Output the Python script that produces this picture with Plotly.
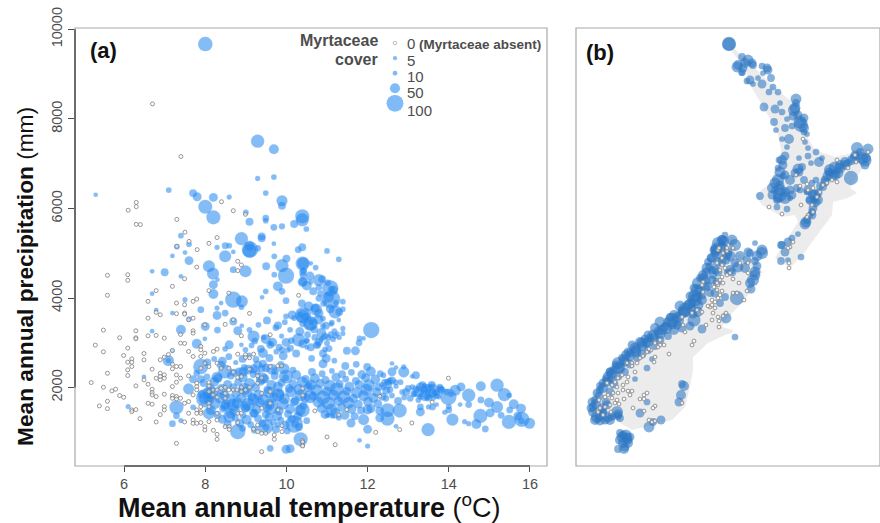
import plotly.graph_objects as go

W, H = 880, 523

# ---- Panel (a): sites with Myrtaceae absent (temperature, precipitation)
absent_temp = [6.7,7.4,6.3,6.3,6.1,7.3,6.3,6.4,8.4,8.69,8.99,7.5,7.6,8.09,8.29,7.8,7.3,
 5.59,6.09,6.09,5.59,6.79,6.59,7.19,7.49,7.79,7.29,7.49,7.7,7.79,6.79,6.89,7.29,7.49,7.49,6.59,7.59,7.7,8.09,8.58,9.09,8.49,7.99,8.69,10.3,8.8,8.89,8.8,
 5.49,6.29,5.89,6.29,6.29,6.59,6.79,6.99,7.39,7.7,7.7,7.39,7.49,8.89,9.6,5.29,6.09,5.49,6.49,6.49,5.99,6.19,6.09,6.19,6.19,6.09,6.09,5.59,5.19,5.49,6.29,5.79,5.7,5.89,5.99,5.59,5.39,5.59,6.19,6.19,6.29,6.39,
 6.69,6.89,6.99,7.09,7.19,6.89,6.89,6.99,6.79,6.89,6.99,6.49,6.59,6.69,6.69,6.69,6.79,6.99,6.59,6.69,6.99,6.99,6.89,6.79,7.19,7.29,7.39,7.19,7.29,7.29,7.19,7.39,7.59,7.79,7.79,7.79,7.7,7.19,7.29,7.29,7.19,7.39,7.59,7.49,7.79,7.89,7.59,7.7,7.7,7.79,7.49,7.89,7.99,7.99,8.2,8.29,8.29,7.29,
 7.59,7.7,7.89,7.89,7.99,7.89,8.2,8.29,7.99,7.89,8.09,8.29,8.39,8.58,8.69,8.8,8.89,8.8,8.99,8.99,9.09,9.19,9.09,9.29,9.39,9.6,9.79,9.88,
 8.09,8.09,8.19,8.29,8.39,8.09,8.19,8.29,8.49,8.49,8.58,8.69,8.49,8.78,8.89,9.09,8.89,8.99,8.09,8.09,7.89,7.79,8.29,8.29,8.09,7.89,
 8.49,8.59,8.59,8.8,8.89,8.8,9.19,9.29,9.29,9.39,9.49,9.7,9.7,9.89,9.89,9.39,9.39,9.6,9.6,9.39,9.79,9.29,10.39,10.39,
 13.99,13.59,12.3,11.49,11.29,10.7,13.09,12.79,12.2,11.2,11.0,10.4,10.4,10.4,10.4]
absent_precip = [8335,7160,6135,6040,5960,5755,5645,5640,6150,5950,5870,5470,5265,5220,5350,5080,5155,
 4507,4520,4395,4060,4165,3925,4260,4430,4690,3887,3850,3925,3977,3680,3626,3650,3665,3640,3550,3515,3550,4165,4110,3656,3410,3400,3515,4060,4820,4738,4611,
 3283,3268,3112,3112,3090,3156,3164,3104,3186,3268,3216,2992,2985,3156,3179,2947,2880,2798,2760,2619,2716,2641,2567,2567,2470,2395,2269,2320,2112,2007,2037,1963,1925,1821,1784,1694,1590,1530,1500,1463,1508,1306,
 2410,2619,2679,2738,2828,2320,2246,2283,2209,2172,2209,2172,2075,1963,1888,1836,1799,1851,1649,1627,1575,1500,1396,1232,2522,2470,2470,2418,2283,2119,2022,2209,2261,2097,2022,1948,1836,1821,1799,1746,1761,1761,1687,1649,1500,1463,1426,1276,1202,1202,1232,1217,1127,1052,1045,955,844,755,
 2806,2694,2918,2843,2768,2694,2806,2858,2545,2433,2470,2545,2433,2433,2343,2224,2246,2746,2731,2671,2664,2746,2410,2261,2216,2470,2485,2485,
 2112,2037,1948,1948,1985,1910,1836,1784,1873,1761,1948,1948,2007,1948,2007,2007,1910,1948,1649,1575,1575,1426,1426,1276,1239,1426,
 1127,1127,1067,1426,1426,1217,1075,1164,1015,978,978,941,844,1150,1015,568,1873,1910,1649,1538,1500,2097,814,709,
 2209,1672,1806,1508,1388,1478,1209,1060,1000,724,896,1978,1828,784,695]

# ---- Panel (a): sites with Myrtaceae present, by climate region
upper_temp = [8.0,5.3,7.1,7.7,7.8,8.2,8.0,8.2,8.59,9.29,9.69,9.29,9.69,9.49,9.89,9.89,9.0,9.09,9.49,9.49,9.69,9.89,10.19,10.39,10.39,10.49,7.4,7.6,7.3,8.89,9.09,9.39,9.39,9.69,8.29,8.49,8.59,9.1,9.29,10.39,10.29]
upper_precip = [9672,6306,6410,6343,6261,6247,6038,5801,6254,7502,7324,6670,6700,6343,6172,6061,5912,5704,5786,5726,5578,5600,5652,5823,5749,5541,5392,5199,5147,5325,5169,5377,5333,5214,5132,5169,5169,5080,5110,5132,5080]
upper_cover = [73,5,12,27,34,34,70,70,8,64,41,8,12,12,49,27,12,27,19,12,19,16,27,70,64,12,12,12,12,64,41,27,27,5,8,19,12,85,19,27,19]

middle_temp = [7.5,7.19,7.6,8.49,9.09,8.69,8.09,8.19,8.69,8.99,9.5,9.7,10.0,9.89,9.99,10.4,10.4,9.7,9.79,9.89,9.99,9.49,9.4,8.2,8.2,8.3,6.69,7.0,7.4,6.69,7.5,8.69,8.9,8.89,7.89,8.39,8.29,8.49,8.29,6.79,7.19,7.6,8.69,8.0,8.3,8.8,8.9,9.09,9.19,7.4,6.69,7.99,9.6,9.99,10.19,10.4,10.58,9.79,10.09,10.4,9.49,9.6,9.99,10.3,7.79,8.59,8.49,8.89,8.99,7.09,7.19,
 11.29,11.0,10.41,10.6,10.41,10.41,10.41,10.6,10.8,10.8,11.08,11.1,11.1,11.39,10.8,11.2,11.39,11.29,11.1,10.41,10.6,10.8,10.9,10.5,10.71,11.39,11.39,10.9,10.34,10.5,10.5,12.09,11.8,11.9,11.79,11.49,11.7,
 10.7,10.8,10.85,10.95,11.0,10.75,10.9,11.1,11.2,11.3,11.15,11.25,11.05,10.9,10.98]
middle_precip = [5014,4939,4835,4932,5058,5029,4708,4544,4633,4596,4708,4932,4880,4723,4499,4768,4357,4521,4260,4148,3940,4148,4014,4298,4089,4410,4596,4574,4484,4096,3962,3962,3925,3798,3738,3887,3775,3664,3611,3731,3664,3530,3477,3365,3283,3268,3380,3290,3141,3290,3260,3089,3701,3589,3552,3589,3425,3388,3290,3425,3082,2955,3007,3067,2977,2955,2865,2955,2843,2604,2820,
 4865,5050,4775,4775,4589,4514,4365,4357,4402,4238,4216,3970,4200,3917,3992,3693,3750,3507,3417,3619,3432,3656,3540,3045,3770,3320,3209,3372,3620,3045,2895,3283,3097,3097,3000,2821,2821,
 3120,3030,3070,3150,2990,2950,3110,3180,3150,3120,3080,3200,2870,2760,2650]
middle_cover = [5,5,34,56,70,5,56,56,19,56,27,12,27,64,85,70,41,12,41,19,19,12,5,34,41,5,5,27,5,5,8,85,56,12,19,5,8,19,34,5,5,12,27,34,19,34,5,12,56,41,5,5,5,12,12,70,70,27,12,19,41,27,34,64,41,34,12,5,12,49,5,
 12,12,56,5,27,20,34,8,56,19,85,100,19,12,19,64,12,5,8,85,70,34,12,12,34,8,8,12,19,12,5,85,12,5,19,27,34,
 19,27,12,19,12,27,12,19,12,8,12,8,19,27,34]

lower_temp = [8.0,7.99,8.09,8.09,8.8,8.59,8.69,8.49,8.99,9.19,8.9,9.19,9.6,9.49,9.4,9.29,9.39,9.99,9.89,9.79,10.19,10.4,10.58,10.35,9.6,9.99,10.09,9.79,
 7.89,8.39,8.49,8.29,7.79,7.7,7.59,7.89,6.49,6.1,7.29,7.29,7.19,7.4,7.7,7.09]
lower_precip = [1761,1761,1873,1426,1015,1351,1612,1575,1575,1724,1948,1426,1575,1127,2209,2507,2433,2246,2843,1836,1187,1500,1799,844,642,620,635,1164,
 2470,2507,2358,2231,2320,2186,1970,2186,2239,1575,1560,1373,1194,1262,1560,2604]
lower_cover = [100,60,64,56,78,56,64,41,49,56,27,34,85,78,56,34,27,70,19,64,93,70,64,70,19,34,34,12,
 78,34,70,49,19,27,49,27,5,8,70,19,19,8,12,8]

# dense core read band by band (cool side)
core_temp = [8.04,8.31,8.63,8.92,9.18,9.47,9.71,9.98,10.24,10.47,
 7.96,8.22,8.55,8.81,9.09,9.36,9.63,9.88,10.16,10.39,10.55,
 8.12,8.41,8.69,8.97,9.24,9.53,9.79,10.07,10.31,10.52,
 7.91,8.18,8.47,8.76,9.03,9.31,9.58,9.84,10.11,10.36,
 8.07,8.36,8.6,8.88,9.16,9.43,9.69,9.95,10.22,10.46,
 8.23,8.5,8.79,9.06,9.34,9.6,9.91,10.19,10.42,
 8.14,8.44,8.72,9.0,9.27,9.55,9.82,10.09,10.33,
 8.3,8.62,8.93,9.21,9.49,9.77,10.04,10.28,
 8.42,8.74,9.02,9.3,9.57,9.86,10.13,
 8.55,8.85,9.12,9.41,9.68,9.97,10.21,10.5,
 8.92,9.22,9.5,9.74,10.02,10.31]
core_precip = [2240,2210,2270,2230,2290,2200,2260,2220,2280,2190,
 2100,2130,2070,2120,2090,2140,2060,2110,2080,2130,2050,
 1990,1960,2010,1970,2000,1950,2020,1980,1960,2000,
 1850,1880,1830,1870,1900,1840,1890,1860,1910,1830,
 1740,1770,1720,1760,1790,1730,1780,1750,1710,1770,
 1650,1620,1660,1630,1670,1610,1640,1680,1600,
 1500,1530,1490,1540,1510,1550,1480,1520,1490,
 1390,1420,1380,1430,1400,1370,1410,1360,
 1290,1320,1280,1310,1340,1270,1300,
 1180,1210,1170,1200,1230,1160,1190,1260,
 1090,1060,1110,1070,1030,1120]
core_cover = [19,34,27,41,19,34,27,19,41,27,
 27,41,34,27,49,34,41,27,34,49,27,
 34,49,27,56,34,27,41,34,49,34,
 27,56,41,34,49,41,56,34,49,56,
 34,49,64,41,34,56,41,49,34,41,
 56,41,49,64,41,34,56,34,27,
 41,27,49,34,41,27,34,41,49,
 27,41,19,34,27,41,27,34,
 34,19,41,27,34,19,27,
 27,34,19,27,19,34,27,19,
 19,27,19,27,19,27]

# dense core (warm side)
warm_temp = [10.63,10.88,11.12,11.37,11.6,11.86,12.08,12.31,
 10.7,10.96,11.22,11.46,11.71,11.95,12.19,12.42,
 10.61,10.83,11.07,11.31,11.55,11.79,12.03,12.27,12.5,
 10.74,10.99,11.24,11.49,11.73,11.97,12.22,12.46,
 10.66,10.9,11.16,11.41,11.65,11.9,12.14,12.37,
 10.78,11.03,11.28,11.53,11.77,12.01,12.25,
 10.87,11.11,11.36,11.6,11.84,12.08,
 10.95,11.2,11.44,11.68,
 10.62,10.9,11.18,11.45,11.72,11.99]
warm_precip = [2350,2310,2370,2300,2340,2290,2360,2310,
 2210,2170,2230,2190,2150,2220,2180,2120,
 2060,2090,2040,2080,2020,2070,2050,2010,2080,
 1940,1910,1960,1920,1890,1950,1900,1930,
 1810,1780,1830,1790,1760,1820,1770,1800,
 1680,1650,1700,1660,1630,1690,1640,
 1540,1510,1560,1520,1490,1530,
 1400,1430,1380,1360,
 2650,2530,2600,2480,2520,2460]
warm_cover = [27,19,12,27,19,34,41,19,
 41,27,34,19,27,34,41,19,
 49,34,56,27,41,34,56,27,34,
 56,41,70,34,49,56,34,27,
 34,70,49,64,34,49,41,27,
 49,64,41,56,34,41,34,
 41,56,34,41,27,34,
 34,49,34,27,
 19,34,12,27,19,27]

# warm cloud above the core, between 2500 and 4800 mm
cloud_temp = [10.42,10.58,10.72,10.88,11.02,11.16,10.5,10.66,10.84,11.04,11.22,10.38,10.55,10.73,10.92,11.08,11.3,10.46,10.62,10.79,10.97,11.12,
 10.33,10.52,10.68,10.86,11.03,11.18,10.4,10.6,10.77,10.95,10.24,10.1,9.92,9.75,9.58,9.42,9.25,9.08,8.92,8.75,8.58,8.42,8.22,8.05,
 9.31,9.52,9.74,9.96,10.14,9.22,9.44,9.66,9.88,10.12,9.14,9.37,9.6,9.82,10.03,8.96,9.19,9.42,9.64,9.86,
 8.83,9.05,9.28,9.5,9.72,9.94,10.16,8.71,8.93,9.15]
cloud_precip = [4620,4490,4680,4420,4340,4180,4280,4150,4100,4020,3900,3880,3810,3740,3880,3760,3690,3580,3460,3520,3380,3450,
 3250,3180,3300,3220,3120,3260,2980,2900,2960,2850,2760,2880,2710,2800,2660,2770,2630,2720,2640,2560,2690,2590,2640,2560,
 3400,3500,3340,3460,3620,3040,3120,3010,3150,3050,2940,2860,2980,2900,2840,2450,2420,2530,2410,2520,
 2360,2400,2340,2440,2370,2420,2390,2330,2350,2390]
cloud_cover = [19,34,12,27,19,34,41,27,19,49,12,27,41,56,19,34,27,34,19,41,27,12,
 34,19,27,41,19,12,34,27,19,12,27,19,34,12,27,41,19,12,27,8,19,34,12,27,
 12,27,19,12,34,19,12,34,8,19,12,27,8,19,12,19,34,27,49,19,
 27,41,19,34,27,49,19,27,41,19]

tail_temp = [12.6,12.89,12.89,12.7,12.6,13.19,13.1,12.39,12.49,12.6,12.69,12.81,13.3,13.47,13.58,13.42,13.26,13.14,13.7,13.79,13.99,14.3,14.16,14.49,14.79,15.19,15.37,15.49,14.79,14.99,15.19,14.78,15.02,15.29,14.68,14.9,15.48,15.6,15.78,15.5,15.8,15.79,15.99,15.7,14.39,14.49,14.09,14.49,14.28,13.49,14.0,13.9,14.0,13.3,13.3,13.5,13.6,13.7,12.79,12.49,12.49,12.3,12.3,12.7,11.9,12.0,12.0,11.59,11.8,12.0,11.0,11.04,11.14,11.29,
 12.4,12.55,12.7,12.85,13.0,13.15,13.35,13.55,13.65,13.85,14.05,12.45,12.6,12.75,12.9,13.05,13.25,13.45,13.62,13.75,
 13.2,13.4,13.6,13.8,13.95,13.3,13.5,13.7,13.4,13.58,13.78,12.95,13.1,12.55,12.35]
tail_precip = [2537,2462,2351,2447,2351,2276,2250,2276,2120,2160,2120,2120,2015,1978,1940,1828,1903,1866,1903,1940,1791,2015,1940,1828,2030,2052,1843,1828,1724,1664,1567,1366,1433,1381,1187,1075,1232,1627,1530,1500,1291,1254,1202,1360,1239,1194,1284,1620,1620,1060,1575,1448,1500,1567,1455,1567,1567,1620,1485,1306,1493,1478,1322,1135,1284,1508,1067,1209,821,694,1381,1381,1366,1328,
 2000,1950,2030,1900,1980,1850,2050,2000,1880,1960,1850,1760,1820,1700,1780,1760,1720,1800,1760,1800,
 1960,1940,1880,1960,1900,1800,1780,1820,2040,2060,2010,1900,2010,2150,2060]
tail_cover = [5,8,49,5,34,27,5,12,19,27,12,12,34,34,70,56,49,19,19,27,85,34,49,64,41,64,64,12,19,41,56,70,34,19,41,19,70,41,41,19,78,19,49,34,8,8,56,19,5,64,12,8,19,19,34,8,19,5,70,70,70,34,34,5,49,41,34,34,5,8,8,8,8,12,
 12,19,8,12,19,12,27,19,12,8,12,19,12,27,12,19,12,19,8,12,
 27,34,41,27,19,19,27,19,12,27,19,27,12,19,12]

axis_x_ticks = [6, 8, 10, 12, 14, 16]
axis_y_ticks = [2000, 4000, 6000, 8000, 10000]

# ---- Legend
legend_cover = [0, 5, 10, 50, 100]
legend_labels = ["0", "5", "10", "50", "100"]

# ---- Panel (b): New Zealand land outline (map position)
north_x = [730,757,775,792,805,808,815,835,852,868,870,858,850,857,848,833,832,822,812,805,790,775,788,798,795,782,762,755,768,775,782,778,772,762,752,745,732,730]
north_y = [45,70,88,102,122,138,150,157,153,148,158,175,188,193,198,202,215,228,242,252,268,258,238,222,215,217,205,195,185,172,155,135,122,105,88,68,52,45]
south_x = [735,715,712,702,692,675,655,638,618,605,592,590,595,615,632,645,672,685,690,693,693,708,725,732,733,722,728,742,752,758,763,755,738,732,735]
south_y = [237,240,257,273,293,313,330,340,360,373,397,410,423,420,430,427,420,407,387,370,357,343,335,333,330,327,317,303,290,273,273,260,253,243,237]

# ---- Panel (b): sites, map position
map_absent_x = [669,692,694,685,683,706,719,712,718,719,726,723,713,702,697,692,682,710,712,708,715,712,715,718,720,717,722,714,718,723,720,717,722,727,730,733,739,747,744,733,737,748,740,748,703,702,703,717,722,725,720,718,723,727,722,
 664,660,658,655,660,651,647,649,643,640,655,654,637,632,632,627,635,622,628,618,627,623,615,612,617,607,623,628,632,630,608,613,618,624,617,612,605,599,605,610,615,619,598,611,603,600,
 647,644,640,644,633,644,655,653,649,652,655,682,
 837,848,856,868,803,796,807,800,808,813,823,827,832,837,769,801,782,812,808,813,807,817,820,855,790,793,788,789,789,719,727,733]
map_absent_y = [354,345,341,332,325,325,327,320,317,321,313,316,313,312,310,313,317,307,305,306,308,300,302,298,295,290,291,287,285,283,280,283,277,275,273,279,283,291,300,293,293,273,263,263,282,285,292,263,265,268,270,250,253,251,258,
 345,345,347,343,340,350,352,349,356,358,357,362,363,363,366,363,372,375,377,378,382,385,382,385,387,383,390,391,391,395,395,393,393,399,400,398,397,400,407,405,403,404,412,412,415,408,
 393,395,399,399,408,411,406,408,420,422,421,403,
 160,168,162,152,139,175,184,186,190,188,185,183,180,182,207,205,214,205,215,212,217,197,192,155,247,242,248,263,268,248,248,248]

north_map_x = [729,742,748,737,743,753,742,758,750,747,753,762,762,767,763,771,773,769,778,796,796,780,764,775,782,794,798,804,787,774,801,792,785,776,804,807,782,789,787,805,808,816,808,811,799,785,779,783,778,822,819,
 857,868,865,852,845,865,835,832,851,825,838,823,840,829,860,855,848,
 798,802,795,778,772,780,785,792,777,777,787,760,797,807,813,818,815,813,812,805,807,775,780,783,790,800,804,809,812,816,820,810,815,
 792,798,788,782,801,781,788,785,781,762,755,
 780,785,778,772,790,775,780,785,782,790,808,811,818,815,812,806,830,835,828,840,845,825,855,862,866,800,804,795,793,745,738,742,752,768,729,799]
north_map_y = [44,57,60,67,68,65,73,78,80,81,84,84,66,68,73,78,87,92,92,99,103,103,107,109,112,110,115,118,119,122,125,126,128,130,132,134,139,139,147,142,148,152,156,163,158,156,160,165,168,158,162,
 148,149,160,160,162,165,168,175,178,182,173,187,165,172,152,155,163,
 169,167,173,180,188,195,192,195,200,207,209,196,188,192,195,193,202,208,183,224,220,190,185,176,198,190,180,200,212,180,186,215,200,
 238,234,242,245,257,261,260,252,245,253,243,
 190,198,198,195,190,183,172,175,160,180,190,200,200,195,215,222,170,175,176,168,165,180,158,158,158,122,128,108,116,63,65,72,63,70,44,172]
north_map_cover = [64,19,41,41,27,19,5,5,27,12,5,27,12,27,5,19,12,12,12,41,19,5,27,27,12,49,27,27,5,19,64,12,19,5,12,5,5,34,5,5,5,12,12,5,5,27,12,27,12,5,34,
 49,41,56,34,34,27,56,49,64,27,41,19,34,27,19,27,19,
 41,19,27,49,34,64,34,27,19,12,12,19,19,12,34,27,41,27,12,41,19,19,27,12,8,12,19,12,19,12,19,8,12,
 12,5,27,19,12,19,5,27,19,49,5,
 49,49,34,27,27,41,41,27,34,34,34,41,34,41,27,41,49,41,41,41,34,27,41,49,34,56,34,41,27,34,34,19,27,27,56,27]

south_map_x = [725,718,735,723,715,718,710,703,698,713,705,695,702,710,715,685,698,692,672,678,677,694,702,726,720,725,
 750,747,755,738,755,753,751,737,732,727,
 662,653,647,642,635,630,618,625,613,608,603,600,595,593,597,603,608,617,620,611,
 652,647,635,684,682,681,679,647,640,661,649,653,735,623,627,623,618,625,628,620,
 720,722,726,714,708,716,700,706,712,697,692,688,683,668,665,658,670,650,645,640,632,628,622,616,610,606,600,597,592,591,595,600,605,612,618,607,603,
 724,716,711,706,700,694,690,680,674,660,655,648,636,626,620,610,730,717,728,722,
 722,732,716,727,712,722,707,718,703,712,697,708,694,702,690,698,684,693,678,690,672,682,666,674,660,668,654,660,648,655,642,648,636,642,630,637,624,630,618,625,612,618,607,614,603,610,599,606,596,602,593,600,610,618,
 740,748,757,762,745,755,757,750,735,730,622,626,620,628,624,630]
south_map_y = [235,243,245,248,253,262,267,275,283,275,287,300,295,293,293,310,305,310,320,317,325,320,329,318,303,297,
 253,260,261,267,272,280,289,298,272,272,
 330,335,343,343,348,353,363,362,370,377,383,390,400,407,417,413,417,412,418,380,
 359,368,379,386,384,395,402,402,413,420,427,422,337,435,438,443,449,447,440,433,
 255,240,260,250,262,270,290,280,270,297,303,305,312,322,327,331,317,338,339,342,345,352,358,365,372,379,386,393,402,408,420,416,420,416,416,405,410,
 241,250,258,272,278,288,296,306,315,322,328,335,350,355,368,372,256,282,252,246,
 240,240,248,255,258,262,268,272,278,280,290,286,296,300,304,312,312,314,320,326,324,328,328,330,334,336,338,340,342,346,346,350,352,354,356,358,360,364,368,372,374,376,382,384,388,392,396,402,404,408,412,420,420,414,
 256,252,256,250,268,275,266,283,263,270,437,435,440,443,449,437]
south_map_cover = [12,49,49,41,27,34,27,34,49,19,34,56,27,19,27,64,41,34,64,41,27,56,27,41,19,19,
 19,27,19,41,41,49,27,64,27,12,
 41,41,27,41,41,27,49,27,19,41,27,19,19,27,49,27,41,49,19,27,
 5,12,5,34,19,34,27,12,27,27,41,19,12,27,41,34,19,27,27,19,
 27,34,27,27,19,27,41,27,19,34,27,34,41,34,27,27,19,19,27,34,27,27,19,27,27,19,19,27,27,27,34,34,27,27,19,27,19,
 34,41,27,27,19,27,27,41,34,41,34,27,34,34,41,27,41,27,27,27,
 34,41,41,34,34,27,41,27,34,27,49,27,49,34,41,34,49,27,49,27,41,27,49,34,41,19,41,27,41,19,34,19,41,27,34,19,41,27,49,19,34,27,34,27,34,27,27,27,34,27,34,41,34,27,
 34,27,41,41,34,41,27,34,27,34,41,41,34,34,34,27]


def dot_size(cover, base=3.4, slope=0.135):
    return [base + slope * c for c in cover]


def px_x(p):
    return p / W


def px_y(p):
    return 1 - p / H


present_temp = upper_temp + middle_temp + core_temp + warm_temp + cloud_temp + lower_temp + tail_temp
present_precip = upper_precip + middle_precip + core_precip + warm_precip + cloud_precip + lower_precip + tail_precip
present_cover = upper_cover + middle_cover + core_cover + warm_cover + cloud_cover + lower_cover + tail_cover

BLUE_A = "rgba(38,136,240,0.80)"
BLUE_B = "rgba(46,118,196,0.82)"
GREY = "#7d7d7d"
DARK = "#4d4d4d"
FRAME = "#a8a8a8"
FONT = "Liberation Sans"

fig = go.Figure()

fig.add_trace(go.Scatter(x=present_temp, y=present_precip, mode="markers", showlegend=False,
                         marker=dict(size=dot_size(present_cover, 4.0, 0.145), color=BLUE_A,
                                     line=dict(width=0.3, color="rgba(190,220,255,0.55)")),
                         xaxis="x", yaxis="y"))
fig.add_trace(go.Scatter(x=absent_temp, y=absent_precip, mode="markers", showlegend=False,
                         marker=dict(size=4, color="rgba(255,255,255,0.55)", line=dict(width=0.8, color=GREY)),
                         xaxis="x", yaxis="y"))

# land
for lx, ly in ((north_x, north_y), (south_x, south_y)):
    fig.add_trace(go.Scatter(x=lx, y=ly, mode="lines", fill="toself", fillcolor="#ececec",
                             line=dict(width=0), showlegend=False, xaxis="x2", yaxis="y2"))
fig.add_trace(go.Scatter(x=north_map_x + south_map_x, y=north_map_y + south_map_y, mode="markers", showlegend=False,
                         marker=dict(size=dot_size(north_map_cover + south_map_cover, 5.0, 0.145), color=BLUE_B, line=dict(width=0)),
                         xaxis="x2", yaxis="y2"))
fig.add_trace(go.Scatter(x=map_absent_x, y=map_absent_y, mode="markers", showlegend=False,
                         marker=dict(size=3.8, color="rgba(255,255,255,0.75)", line=dict(width=0.8, color=GREY)),
                         xaxis="x2", yaxis="y2"))

# legend key
fig.add_trace(go.Scatter(x=[0, 0, 0, 0, 0], y=legend_labels, mode="markers", showlegend=False,
                         marker=dict(size=dot_size(legend_cover),
                                     color=["rgba(255,255,255,1)"] + ["rgba(74,158,245,1)"] * 4,
                                     line=dict(width=[0.7, 0, 0, 0, 0], color=GREY)),
                         xaxis="x3", yaxis="y3"))

fig.update_layout(
    width=W, height=H, autosize=False, paper_bgcolor="white", plot_bgcolor="white",
    margin=dict(l=0, r=0, t=0, b=0), font=dict(family=FONT, color=DARK),
    xaxis=dict(domain=[px_x(75), px_x(547)], range=[4.79, 16.42], tickvals=axis_x_ticks, ticks="outside",
               ticklen=5, tickwidth=1, tickcolor=DARK, showgrid=False, zeroline=False, showline=False,
               automargin=False, tickfont=dict(size=14.5, color=DARK), anchor="y"),
    yaxis=dict(domain=[px_y(466), px_y(28)], range=[248, 10030], tickvals=axis_y_ticks, tickformat="d", ticks="outside",
               ticklen=6, tickwidth=1, tickcolor=DARK, showgrid=False, zeroline=False, showline=False,
               automargin=False, tickangle=-90, tickfont=dict(size=14.5, color=DARK), anchor="x"),
    xaxis2=dict(domain=[px_x(576), px_x(880)], range=[576, 880], visible=False, automargin=False, anchor="y2"),
    yaxis2=dict(domain=[px_y(466), px_y(28)], range=[466, 28], visible=False, automargin=False, anchor="x2"),
    xaxis3=dict(domain=[px_x(385), px_x(405)], range=[-1, 1], visible=False, automargin=False, anchor="y3"),
    yaxis3=dict(domain=[px_y(118), px_y(36)], type="category", categoryorder="array", automargin=False,
                categoryarray=legend_labels[::-1], visible=False, anchor="x3"),
    shapes=[
        dict(type="rect", xref="paper", yref="paper", x0=px_x(75), x1=px_x(547), y0=px_y(466), y1=px_y(28),
             line=dict(color=FRAME, width=1.2)),
        dict(type="rect", xref="paper", yref="paper", x0=px_x(576), x1=px_x(880), y0=px_y(466), y1=px_y(28),
             line=dict(color=FRAME, width=1.2)),
        dict(type="line", xref="x", yref="y domain", x0=6, x1=16, y0=0, y1=0, line=dict(color=DARK, width=1.5)),
        dict(type="line", xref="x domain", yref="y", x0=0, x1=0, y0=2000, y1=10000, line=dict(color=DARK, width=1.5)),
    ],
)


def note(px, py, text, size, anchor="left", color=DARK, angle=0, yanchor="middle"):
    fig.add_annotation(xref="paper", yref="paper", x=px_x(px), y=px_y(py), text=text, showarrow=False,
                       xanchor=anchor, yanchor=yanchor, textangle=angle, align=anchor,
                       font=dict(family=FONT, size=size, color=color))


note(88, 50, "<b>(a)</b>", 22, color="#111111")
note(584, 53, "<b>(b)</b>", 22, color="#111111")
note(380, 41, "<b>Myrtaceae</b>", 16, anchor="right")
note(380, 59, "<b>cover</b>", 16, anchor="right")
note(405, 43.5, "0", 15)
note(417, 44, "<b>(Myrtaceae absent)</b>", 13.5)
note(405, 61, "5", 15)
note(405, 76.5, "10", 15)
note(405, 92, "50", 15)
note(405, 110, "100", 15)
note(309, 506, "<b>Mean annual temperature</b> (<sup>o</sup>C)", 27, anchor="center", color="#111111")
note(25, 277, "<b>Mean annual precipitation</b> (mm)", 22.7, anchor="center", color="#111111", angle=-90)

fig.write_html("out.html", config={"displayModeBar": False},
               post_script="document.body.style.margin='0';document.body.style.overflow='hidden';")
